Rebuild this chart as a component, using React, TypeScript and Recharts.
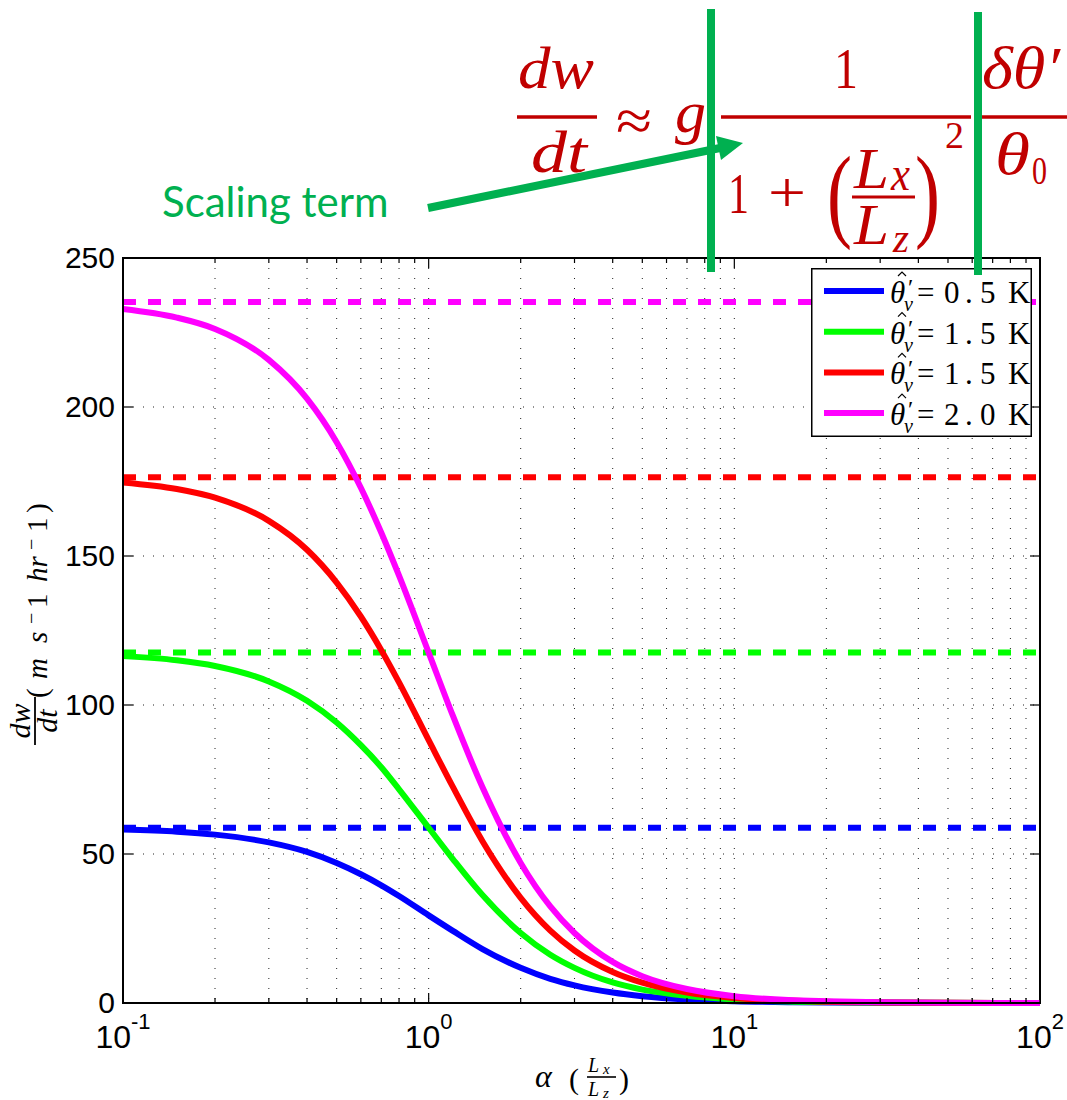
import React from 'react';
import {
  LineChart,
  Line,
  XAxis,
  YAxis,
  CartesianGrid,
  ReferenceLine,
  ReferenceArea,
  Legend,
} from 'recharts';

// Aspect ratio α = Lx/Lz at which the curves are sampled
const alphaValues = [
  0.1, 0.15, 0.2, 0.3, 0.4, 0.5, 0.6, 0.7, 0.8, 1, 1.2, 1.5, 2, 2.5, 3, 4, 5, 7, 10, 15, 20, 30, 50, 100,
];

// dw/dt (m s^-1 hr^-1) for each buoyancy perturbation
const accel05 = [
  58.2, 57.5, 56.5, 53.9, 50.7, 47.0, 43.2, 39.5, 35.9, 29.4, 24.2, 18.1, 11.8, 8.1, 5.9, 3.5, 2.3, 1.2, 0.6, 0.26,
  0.15, 0.07, 0.02, 0.01,
];
const accel15a = [
  116.4, 115.0, 113.1, 107.9, 101.4, 94.1, 86.5, 79.1, 71.7, 58.8, 48.3, 36.2, 23.5, 16.2, 11.8, 6.9, 4.5, 2.4, 1.2,
  0.5, 0.3, 0.13, 0.05, 0.01,
];
const accel15b = [
  174.7, 172.5, 169.6, 161.8, 152.1, 141.1, 129.7, 118.4, 107.6, 88.2, 72.5, 54.3, 35.3, 24.3, 17.6, 10.4, 6.8, 3.5,
  1.7, 0.8, 0.4, 0.2, 0.07, 0.02,
];
const accel20 = [
  232.9, 230.0, 226.2, 215.8, 202.8, 188.2, 172.9, 157.8, 143.4, 117.6, 96.4, 72.4, 47.0, 32.4, 23.5, 13.8, 9.0, 4.7,
  2.3, 1.0, 0.6, 0.26, 0.09, 0.02,
];

// Hydrostatic limit (α → 0) of each curve, drawn dashed
const asymptotes = [58.8, 117.6, 176.4, 235.2];

const seriesKeys = ['k05', 'k15a', 'k15b', 'k20'];
const seriesColors = ['#0000FF', '#00FF00', '#FF0000', '#FF00FF'];
const legendValues = ['0.5', '1.5', '1.5', '2.0'];

const xMajorTicks = [0.1, 1, 10, 100];
const xMinorTicks = [
  0.2, 0.3, 0.4, 0.5, 0.6, 0.7, 0.8, 0.9, 2, 3, 4, 5, 6, 7, 8, 9, 20, 30, 40, 50, 60, 70, 80, 90,
];
const xTickLabels = ['-1', '0', '1', '2'];
const yTicks = [0, 50, 100, 150, 200, 250];

const chartData = alphaValues.map((alpha, i) => ({
  alpha,
  k05: accel05[i],
  k15a: accel15a[i],
  k15b: accel15b[i],
  k20: accel20[i],
}));

const CHART_W = 1067;
const CHART_H = 1100;
const Y_AXIS_W = 60;
const X_AXIS_H = 40;
const PLOT_TOP = 258;
const PLOT_BOTTOM = 1003;
const PLOT_LEFT = 123;
const PLOT_RIGHT = 1040;
const MARGIN = {
  top: PLOT_TOP,
  right: CHART_W - PLOT_RIGHT,
  bottom: CHART_H - PLOT_BOTTOM - X_AXIS_H,
  left: PLOT_LEFT - Y_AXIS_W,
};

const SANS = '"Liberation Sans", Arial, Helvetica, sans-serif';
const SERIF = '"Liberation Serif", "Times New Roman", serif';
const FORMULA_RED = '#C00000';
const NOTE_GREEN = '#00B050';

const allXTicks = [...xMajorTicks, ...xMinorTicks].sort((a, b) => a - b);

const renderXTick = (props: any) => {
  const { x, payload } = props;
  const idx = xMajorTicks.indexOf(payload.value);
  const major = idx >= 0;
  const len = major ? 10 : 5;
  return (
    <g>
      <line x1={x} x2={x} y1={PLOT_BOTTOM} y2={PLOT_BOTTOM - len} stroke="#000" strokeWidth={1.2} />
      <line x1={x} x2={x} y1={PLOT_TOP} y2={PLOT_TOP + len} stroke="#000" strokeWidth={1.2} />
      {major && (
        <text x={x} y={PLOT_BOTTOM + 45} textAnchor="middle" fontFamily={SANS} fontSize={32} fill="#000">
          <tspan>10</tspan>
          <tspan dy={-19} fontSize={22}>
            {xTickLabels[idx]}
          </tspan>
        </text>
      )}
    </g>
  );
};

const renderYTick = (props: any) => {
  const { y, payload } = props;
  return (
    <g>
      <line x1={PLOT_LEFT} x2={PLOT_LEFT + 10} y1={y} y2={y} stroke="#000" strokeWidth={1.2} />
      <line x1={PLOT_RIGHT} x2={PLOT_RIGHT - 10} y1={y} y2={y} stroke="#000" strokeWidth={1.2} />
      <text x={PLOT_LEFT - 8} y={y + 10} textAnchor="end" fontFamily={SANS} fontSize={30} fill="#000">
        {payload.value}
      </text>
    </g>
  );
};

function LegendBox(props: any) {
  const payload = props.payload || [];
  return (
    <svg width={221} height={169} style={{ display: 'block' }}>
      <rect x={0.75} y={0.75} width={219.5} height={167.5} fill="#fff" stroke="#000" strokeWidth={1.5} />
      {payload.map((entry: any, i: number) => {
        const cy = 23 + i * 40.7;
        const val = legendValues[i] || '';
        return (
          <g key={i}>
            <line x1={13} x2={73} y1={cy} y2={cy} stroke={entry.color} strokeWidth={6} />
            <path
              d={`M87,${cy - 15} L91,${cy - 19} L95,${cy - 15}`}
              fill="none"
              stroke="#000"
              strokeWidth={1.2}
            />
            <text fontFamily={SERIF} fill="#000" fontSize={31}>
              <tspan x={79} y={cy + 12} fontStyle="italic">
                θ
              </tspan>
              <tspan x={97} y={cy + 4} fontSize={24}>
                ′
              </tspan>
              <tspan x={93} y={cy + 20} fontSize={20} fontStyle="italic">
                v
              </tspan>
              <tspan x={106} y={cy + 12}>
                =
              </tspan>
              <tspan x={133} y={cy + 12}>
                {val[0]}
              </tspan>
              <tspan x={154} y={cy + 12}>
                .
              </tspan>
              <tspan x={169} y={cy + 12}>
                {val[2]}
              </tspan>
              <tspan x={197} y={cy + 12}>
                K
              </tspan>
            </text>
          </g>
        );
      })}
    </svg>
  );
}

function Annotations() {
  const ital = { fontFamily: SERIF, fontStyle: 'italic' as const, fill: FORMULA_RED };
  const up = { fontFamily: SERIF, fill: FORMULA_RED };
  return (
    <svg
      width={CHART_W}
      height={CHART_H}
      style={{ position: 'absolute', left: 0, top: 0, pointerEvents: 'none', zIndex: 5 }}
    >
      {/* governing relation */}
      <text {...ital} x={518} y={88} fontSize={60} textLength={76} lengthAdjust="spacingAndGlyphs">
        dw
      </text>
      <line x1={517} x2={597} y1={117} y2={117} stroke={FORMULA_RED} strokeWidth={3.5} />
      <text {...ital} x={531} y={172} fontSize={60} textLength={56} lengthAdjust="spacingAndGlyphs">
        dt
      </text>
      <text {...up} x={616} y={140} fontSize={58} textLength={36} lengthAdjust="spacingAndGlyphs">
        ≈
      </text>
      <text {...ital} x={675} y={132} fontSize={60} textLength={31} lengthAdjust="spacingAndGlyphs">
        g
      </text>
      <line x1={721} x2={971} y1={117} y2={117} stroke={FORMULA_RED} strokeWidth={3.5} />
      <text {...up} x={834} y={88} fontSize={58} textLength={24} lengthAdjust="spacingAndGlyphs">
        1
      </text>
      <text {...up} x={728} y={213} fontSize={56} textLength={21} lengthAdjust="spacingAndGlyphs">
        1
      </text>
      <text {...up} x={768} y={212} fontSize={56} textLength={38} lengthAdjust="spacingAndGlyphs">
        +
      </text>
      <text {...up} x={827} y={228} fontSize={104} textLength={25} lengthAdjust="spacingAndGlyphs">
        (
      </text>
      <text {...ital} x={854} y={188} fontSize={56} textLength={35} lengthAdjust="spacingAndGlyphs">
        L
      </text>
      <text {...ital} x={891} y={190} fontSize={48} textLength={19} lengthAdjust="spacingAndGlyphs">
        x
      </text>
      <line x1={852} x2={915} y1={197} y2={197} stroke={FORMULA_RED} strokeWidth={3} />
      <text {...ital} x={854} y={244} fontSize={56} textLength={35} lengthAdjust="spacingAndGlyphs">
        L
      </text>
      <text {...ital} x={893} y={252} fontSize={40} textLength={16} lengthAdjust="spacingAndGlyphs">
        z
      </text>
      <text {...up} x={915} y={228} fontSize={104} textLength={25} lengthAdjust="spacingAndGlyphs">
        )
      </text>
      <text {...up} x={945} y={148} fontSize={38} textLength={19} lengthAdjust="spacingAndGlyphs">
        2
      </text>
      <text {...ital} x={982} y={88} fontSize={60} textLength={78} lengthAdjust="spacingAndGlyphs">
        δθ′
      </text>
      <line x1={982} x2={1067} y1={117} y2={117} stroke={FORMULA_RED} strokeWidth={3.5} />
      <text {...ital} x={995} y={174} fontSize={60} textLength={35} lengthAdjust="spacingAndGlyphs">
        θ
      </text>
      <text {...up} x={1032} y={184} fontSize={40} textLength={15} lengthAdjust="spacingAndGlyphs">
        0
      </text>

      {/* brackets around the scaling factor */}
      <line x1={711} x2={711} y1={9} y2={272} stroke={NOTE_GREEN} strokeWidth={8} />
      <line x1={978} x2={978} y1={12} y2={275} stroke={NOTE_GREEN} strokeWidth={8} />
      <line x1={428} y1={208} x2={720} y2={148} stroke={NOTE_GREEN} strokeWidth={8} />
      <polygon points="743,143 721,160 716,136" fill={NOTE_GREEN} />
      <text x={162} y={217} fontFamily='Lato, "Open Sans", sans-serif' fontSize={42} fill={NOTE_GREEN}>
        Scaling term
      </text>

      {/* x-axis label */}
      <text fontFamily={SERIF} fill="#000">
        <tspan x={535} y={1087} fontSize={32} fontStyle="italic">
          α
        </tspan>
        <tspan x={569} y={1089} fontSize={30}>
          (
        </tspan>
        <tspan x={588} y={1072} fontSize={20} fontStyle="italic">
          L
        </tspan>
        <tspan x={603} y={1074} fontSize={15} fontStyle="italic">
          x
        </tspan>
        <tspan x={588} y={1096} fontSize={20} fontStyle="italic">
          L
        </tspan>
        <tspan x={603} y={1098} fontSize={15} fontStyle="italic">
          z
        </tspan>
        <tspan x={619} y={1089} fontSize={30}>
          )
        </tspan>
      </text>
      <line x1={587} x2={616} y1={1077} y2={1077} stroke="#000" strokeWidth={1.6} />

      {/* y-axis label */}
      <g transform="rotate(-90)">
        <text fontFamily={SERIF} fill="#000" fontStyle="italic" fontSize={30}>
          <tspan x={-721} y={30} textAnchor="middle">
            dw
          </tspan>
          <tspan x={-721} y={57} textAnchor="middle">
            dt
          </tspan>
        </text>
        <line x1={-745} x2={-697} y1={35} y2={35} stroke="#000" strokeWidth={1.8} />
        <text fontFamily={SERIF} fill="#000" fontSize={29}>
          <tspan x={-698} y={47}>
            (
          </tspan>
          <tspan x={-679} y={47} fontStyle="italic">
            m
          </tspan>
          <tspan x={-643} y={47} fontStyle="italic">
            s
          </tspan>
          <tspan x={-624} y={38} fontSize={20}>
            −
          </tspan>
          <tspan x={-608} y={47}>
            1
          </tspan>
          <tspan x={-582} y={47} fontStyle="italic">
            hr
          </tspan>
          <tspan x={-550} y={38} fontSize={20}>
            −
          </tspan>
          <tspan x={-532} y={47}>
            1
          </tspan>
          <tspan x={-513} y={47}>
            )
          </tspan>
        </text>
      </g>
    </svg>
  );
}

export default function App() {
  return (
    <div
      style={{
        position: 'absolute',
        left: 0,
        top: 0,
        width: CHART_W,
        height: CHART_H,
        background: '#fff',
      }}
    >
      <LineChart width={CHART_W} height={CHART_H} data={chartData} margin={MARGIN}>
        <CartesianGrid stroke="#222" strokeWidth={1} strokeDasharray="1 9" />
        <XAxis
          dataKey="alpha"
          type="number"
          scale="log"
          domain={[0.1, 100]}
          ticks={allXTicks}
          interval={0}
          height={X_AXIS_H}
          tickSize={0}
          tickMargin={0}
          tickLine={false}
          axisLine={{ stroke: '#000', strokeWidth: 2 }}
          tick={renderXTick}
        />
        <YAxis
          type="number"
          domain={[0, 250]}
          ticks={yTicks}
          interval={0}
          width={Y_AXIS_W}
          tickSize={0}
          tickMargin={0}
          tickLine={false}
          axisLine={{ stroke: '#000', strokeWidth: 2 }}
          tick={renderYTick}
        />
        <ReferenceArea x1={0.1} x2={100} y1={0} y2={250} fill="none" stroke="#000" strokeWidth={2} />
        {asymptotes.map((v, i) => (
          <ReferenceLine
            key={`asym-${i}`}
            y={v}
            stroke={seriesColors[i]}
            strokeWidth={6}
            strokeDasharray="13 12"
          />
        ))}
        {seriesKeys.map((k, i) => (
          <Line
            key={k}
            dataKey={k}
            name={`θ̂′v=${legendValues[i]} K`}
            type="monotone"
            stroke={seriesColors[i]}
            strokeWidth={6}
            dot={false}
            activeDot={false}
            isAnimationActive={false}
          />
        ))}
        <Legend
          layout="horizontal"
          verticalAlign="middle"
          align="center"
          content={<LegendBox />}
          wrapperStyle={{ left: 811, top: 268, width: 221, height: 169 }}
        />
      </LineChart>
      <Annotations />
    </div>
  );
}
